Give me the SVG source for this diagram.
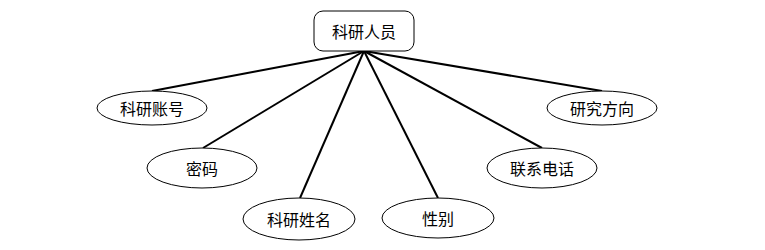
<svg xmlns="http://www.w3.org/2000/svg" width="765" height="250" viewBox="0 0 765 250">
<style>
.node{fill:#fff;stroke:#000;stroke-width:1}
.edge{stroke:#000;stroke-width:2;fill:none}
text{font-family:"Noto Sans CJK SC","Noto Sans",sans-serif;font-size:16px;fill:#000;text-anchor:middle;dominant-baseline:central}
</style>
<rect width="765" height="250" fill="#fff"/>
<g id="edges">
<line class="edge" x1="364" y1="51" x2="152" y2="91"/>
<line class="edge" x1="364" y1="51" x2="203" y2="148"/>
<line class="edge" x1="364" y1="51" x2="300" y2="198"/>
<line class="edge" x1="364" y1="51" x2="438" y2="198"/>
<line class="edge" x1="364" y1="51" x2="542" y2="148"/>
<line class="edge" x1="364" y1="51" x2="602" y2="91"/>
</g>
<g id="n-staff">
<rect class="node" x="314" y="11" width="100" height="40" rx="9" stroke-width="1.2"/>
<text x="364" y="31">科研人员</text>
</g>
<g id="n-account">
<ellipse class="node" cx="152" cy="108" rx="55" ry="17"/>
<text x="152" y="108">科研账号</text>
</g>
<g id="n-password">
<ellipse class="node" cx="202" cy="168" rx="55" ry="20"/>
<text x="202" y="168">密码</text>
</g>
<g id="n-name">
<ellipse class="node" cx="299" cy="219" rx="56" ry="21"/>
<text x="299" y="219">科研姓名</text>
</g>
<g id="n-gender">
<ellipse class="node" cx="438" cy="218" rx="56" ry="20"/>
<text x="438" y="218">性别</text>
</g>
<g id="n-phone">
<ellipse class="node" cx="542" cy="168" rx="55" ry="20"/>
<text x="542" y="168">联系电话</text>
</g>
<g id="n-direction">
<ellipse class="node" cx="602" cy="108" rx="55" ry="17"/>
<text x="602" y="108">研究方向</text>
</g>
</svg>
